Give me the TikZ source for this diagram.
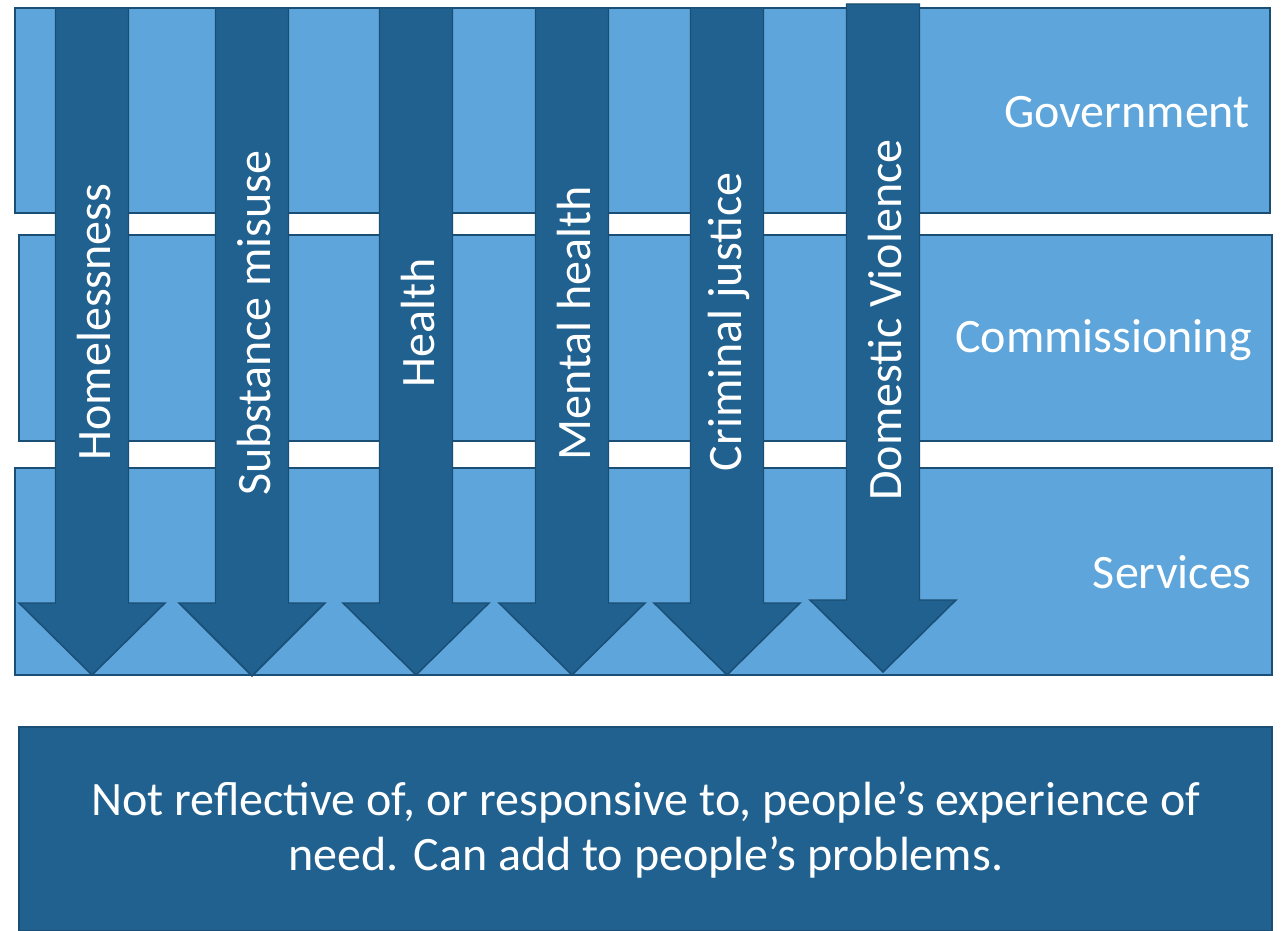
\documentclass[tikz,border=0pt]{standalone}
\usepackage{fontspec}
\setmainfont{Carlito}
\definecolor{bandblue}{HTML}{5DA5DA}
\definecolor{arrowblue}{HTML}{21618F}
\definecolor{edgeblue}{HTML}{1A4E74}
\tikzset{
  band/.style={draw=edgeblue, fill=bandblue, line width=1.1pt},
  downarrow/.style={draw=edgeblue, fill=arrowblue, line width=1.1pt},
  bandtext/.style={text=white, anchor=east, inner sep=0pt, font=\fontsize{36}{43}\selectfont},
  arrowtext/.style={text=white, rotate=90, inner sep=0pt, font=\fontsize{36}{43}\selectfont}
}
\begin{document}
\begin{tikzpicture}[x=0.75pt, y=-0.75pt]
  \useasboundingbox (0,0) rectangle (1281,931);
  % bands
  \draw[band] (15,8) rectangle (1270,213);
  \draw[band] (19,235) rectangle (1272,441);
  \draw[band] (15,468) rectangle (1272,675);
  \node[bandtext] (gov) at (1250,112) {Government};
  \node[bandtext] (com) at (1252,340) {Commissioning};
  \node[bandtext] (serv) at (1252,572) {Services};
  % arrows
  \draw[downarrow] (55.5,8) -- (128.5,8) -- (128.5,603) -- (165,603) -- (92,675)
    -- (19,603) -- (55.5,603) -- cycle;
  \draw[downarrow] (215.5,8) -- (288.5,8) -- (288.5,603) -- (325,603) -- (252,676)
    -- (179,603) -- (215.5,603) -- cycle;
  \draw[downarrow] (379.5,8) -- (452.5,8) -- (452.5,603) -- (489,603) -- (416,675)
    -- (343,603) -- (379.5,603) -- cycle;
  \draw[downarrow] (535.5,8) -- (608.5,8) -- (608.5,603) -- (645,603) -- (572,675)
    -- (499,603) -- (535.5,603) -- cycle;
  \draw[downarrow] (690.5,8) -- (763.5,8) -- (763.5,603) -- (800,603) -- (727,675)
    -- (654,603) -- (690.5,603) -- cycle;
  \draw[downarrow] (846.5,4) -- (919.5,4) -- (919.5,600) -- (956,600) -- (883,672)
    -- (810,600) -- (846.5,600) -- cycle;
  \node[arrowtext] (home) at (94,322) {Homelessness};
  \node[arrowtext] (subst) at (254,323) {Substance misuse};
  \node[arrowtext] (health) at (418,323) {Health};
  \node[arrowtext] (mental) at (574,323) {Mental health};
  \node[arrowtext] (crim) at (729,322) {Criminal justice};
  \node[arrowtext] (dom) at (885,320) {Domestic Violence};
  % outcome box
  \draw[downarrow] (19,727) rectangle (1272,931);
  \node[text=white, align=center, font=\fontsize{36}{41}\selectfont] (outcome) at (646,830)
    {Not reflective of, or responsive to, people’s experience of\\need. Can add to people’s problems.};
\end{tikzpicture}
\end{document}
